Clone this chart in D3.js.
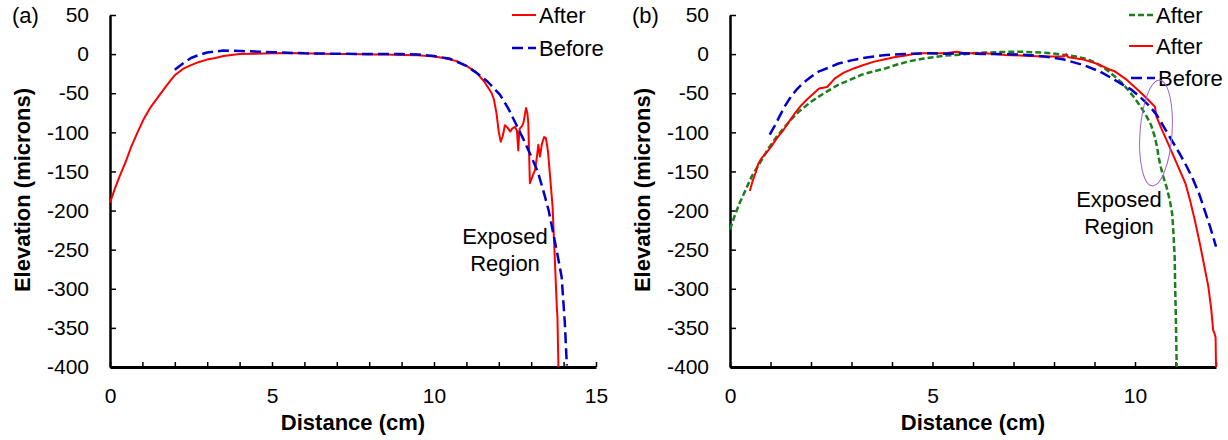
<!DOCTYPE html>
<html lang="en">
<head>
  <meta charset="UTF-8">
  <title>Elevation profiles before and after</title>
  <style>
    body { margin: 0; background: #fff; }
    svg { display: block; font-family: 'Liberation Sans', Arial, sans-serif; }
  </style>
</head>
<body>
  <svg id="chart" width="1228" height="440"></svg>
  <script src="https://cdn.jsdelivr.net/npm/d3@7"></script>
  <script>
    // values: [distance cm, elevation microns]
    const yTicks = [50, 0, -50, -100, -150, -200, -250, -300, -350, -400]
    const xTicksA = d3.range(0, 16)
    const xTicksB = d3.range(0, 13)

    const aAfter = [[0,-190],[0.15,-172],[0.3,-156],[0.5,-136],[0.66,-118],[0.85,-100],[1.03,-84],[1.25,-68],
      [1.5,-54],[1.75,-40],[2.0,-27],[2.25,-19],[2.5,-14],[2.75,-10],[3.0,-7],[3.25,-5],[3.5,-2.5],[3.75,-1],
      [4.0,0],[4.5,0.5],[5,1],[5.5,1.5],[6,1],[6.5,0.5],[7,0],[7.5,0],[8,-0.5],[8.5,-0.5],[9,-1],[9.5,-1.5],
      [10,-3],[10.3,-5],[10.7,-9],[11.0,-15],[11.3,-23],[11.55,-35],[11.78,-50],[11.85,-58],[11.93,-76],
      [12.0,-100],[12.06,-112],[12.12,-105],[12.19,-91],[12.27,-94],[12.35,-99],[12.42,-95],[12.5,-93],
      [12.56,-98],[12.6,-123],[12.63,-100],[12.65,-95],[12.72,-92],[12.76,-88],[12.84,-69],[12.88,-75],
      [12.91,-88],[12.96,-165],[13.05,-155],[13.12,-148],[13.18,-130],[13.22,-116],[13.27,-131],[13.33,-115],
      [13.4,-106],[13.45,-107],[13.48,-114],[13.52,-125],[13.58,-155],[13.66,-195],[13.73,-263],[13.79,-323],
      [13.81,-336],[13.84,-400]]

    const aBefore = [[2.0,-20],[2.25,-12],[2.5,-5],[2.75,-1],[3.0,2],[3.5,4.5],[4.0,4],[5,2.5],[6,1],[7,0.5],
      [8,0],[9,0],[9.5,-0.5],[10,-2.5],[10.5,-6],[11.0,-15],[11.35,-25],[11.65,-35],[12.04,-52],[12.3,-70],
      [12.55,-91],[12.75,-108],[12.96,-127],[13.2,-150],[13.37,-174],[13.54,-200],[13.68,-229],[13.8,-254],
      [13.94,-285],[14.04,-345],[14.1,-398]]

    const bAfterGreen = [[0,-224],[0.12,-206],[0.24,-190],[0.4,-172],[0.54,-156],[0.75,-138],[0.93,-122],
      [1.12,-108],[1.32,-95],[1.5,-84],[1.71,-73],[2.0,-61],[2.2,-54],[2.45,-46],[2.68,-39],[3.0,-32],
      [3.27,-26],[3.55,-22],[3.85,-18],[4.15,-13],[4.44,-9],[4.75,-6],[5.02,-4],[5.3,-2],[5.6,-1],[6.0,1],
      [6.3,2],[6.6,2.5],[6.88,3],[7.2,3],[7.46,2.4],[7.7,2],[7.95,1],[8.25,-1],[8.54,-3],[8.8,-6],[9.02,-11],
      [9.25,-18],[9.51,-29],[9.7,-38],[9.96,-54],[10.15,-68],[10.29,-80],[10.4,-91],[10.49,-106],[10.55,-120],
      [10.58,-131],[10.64,-145],[10.7,-157],[10.78,-170],[10.86,-187],[10.92,-205],[10.95,-229],[10.98,-260],
      [10.99,-293],[11.01,-340],[11.03,-400]]

    const bAfterRed = [[0.49,-175],[0.56,-162],[0.63,-152],[0.7,-140],[0.78,-133],[0.9,-126],[1.02,-118],
      [1.15,-108],[1.32,-97],[1.45,-87],[1.61,-75],[1.75,-66],[1.9,-58],[2.05,-51],[2.2,-44],[2.4,-42],
      [2.59,-31],[2.8,-24],[3.07,-18],[3.3,-14],[3.56,-9.6],[3.8,-7],[4.05,-4],[4.3,-2],[4.54,0],[4.7,1],
      [5.0,1],[5.32,1],[5.6,3],[5.8,1],[6.3,1],[6.8,-1],[7.27,-2],[7.7,-3],[8.1,-3],[8.24,-3],[8.3,0],
      [8.35,-4],[8.73,-7],[9.1,-13],[9.38,-20],[9.5,-22],[9.8,-33],[10.12,-48],[10.3,-57],[10.45,-65],
      [10.49,-67],[10.53,-80],[10.65,-95],[10.78,-110],[10.95,-130],[11.1,-148],[11.25,-166],[11.36,-187],
      [11.48,-213],[11.6,-242],[11.7,-268],[11.81,-297],[11.88,-325],[11.93,-353],[11.97,-358],[11.99,-362],
      [12.0,-400]]

    const bBefore = [[0.98,-103],[1.1,-92],[1.22,-80],[1.35,-67],[1.51,-54],[1.65,-45],[1.8,-37],[2.0,-29],
      [2.2,-22],[2.45,-17],[2.68,-12],[3.0,-8],[3.27,-5],[3.55,-3],[3.85,-1],[4.3,0],[4.83,1],[5.3,0.5],
      [5.8,1],[6.3,0],[6.78,0],[7.3,-1],[7.76,-3],[8.25,-7],[8.73,-14],[9.14,-22.5],[9.4,-30],[9.63,-37],
      [9.9,-45],[10.12,-54.5],[10.35,-66],[10.54,-78],[10.7,-92],[10.86,-106],[11.1,-127],[11.28,-144],
      [11.44,-161],[11.58,-178],[11.69,-195],[11.85,-220],[12.0,-246]]

    const styles = {
      red: { color: '#ff0000', width: 2, dash: null },
      blue: { color: '#0000cc', width: 2.5, dash: '11,5' },
      green: { color: '#1b7f1b', width: 2.5, dash: '6,3' }
    }

    const svg = d3.select('#chart')

    function drawPanel(cfg) {
      const g = svg.append('g')
      const x = d3.scaleLinear().domain([0, cfg.xMax]).range([cfg.left, cfg.right])
      const y = d3.scaleLinear().domain([-400, 50]).range([367, 15])

      const line = d3.line().x(d => x(d[0])).y(d => y(d[1]))

      const yAxis = g.append('g')
        .attr('transform', `translate(${cfg.left},0)`)
        .call(d3.axisLeft(y).tickValues(yTicks).tickSizeInner(-6).tickSizeOuter(0).tickPadding(21)
          .tickFormat(d => String(d)))
      yAxis.select('.domain').attr('stroke-width', 2.5)

      const xAxis = g.append('g')
        .attr('transform', 'translate(0,367)')
        .call(d3.axisBottom(x).tickValues(cfg.xTicks).tickSizeInner(-5).tickSizeOuter(0).tickPadding(21)
          .tickFormat(d => d % 5 === 0 ? String(d) : ''))
      xAxis.select('.domain').attr('stroke-width', 3)

      g.selectAll('.tick line').attr('stroke-width', 1.5)
      g.selectAll('.tick text').attr('font-size', 21).attr('font-family', 'Liberation Sans, Arial, sans-serif')
        .attr('fill', '#000')

      // curves
      cfg.series.forEach(s => {
        const st = styles[s.style]
        g.append('path')
          .attr('d', line(s.data))
          .attr('fill', 'none')
          .attr('stroke', st.color)
          .attr('stroke-width', st.width)
          .attr('stroke-dasharray', st.dash)
          .attr('stroke-linejoin', 'round')
      })

      // legend
      cfg.legend.forEach(l => {
        const st = styles[l.style]
        g.append('line')
          .attr('x1', l.x).attr('x2', l.x + 24).attr('y1', l.y).attr('y2', l.y)
          .attr('stroke', st.color).attr('stroke-width', st.width).attr('stroke-dasharray', st.dash)
        g.append('text')
          .attr('x', l.x + 27).attr('y', l.y + 8)
          .attr('font-size', 22)
          .text(l.label)
      })

      // labels
      g.append('text').attr('x', cfg.left - 98).attr('y', 23).attr('font-size', 22).text(cfg.tag)

      g.append('text')
        .attr('x', (cfg.left + cfg.right) / 2).attr('y', 430)
        .attr('text-anchor', 'middle').attr('font-size', 22).attr('font-weight', 'bold')
        .text('Distance (cm)')

      g.append('text')
        .attr('transform', `translate(${cfg.left - 80},190) rotate(-90)`)
        .attr('text-anchor', 'middle').attr('font-size', 22).attr('font-weight', 'bold')
        .text('Elevation (microns)')

      const note = g.append('text').attr('font-size', 22).attr('text-anchor', 'middle')
      note.append('tspan').attr('x', cfg.note[0]).attr('y', cfg.note[1]).text('Exposed')
      note.append('tspan').attr('x', cfg.note[0]).attr('y', cfg.note[1] + 27).text('Region')

      return g
    }

    drawPanel({
      left: 110, right: 596, xMax: 15, xTicks: xTicksA, tag: '(a)', note: [505, 244],
      series: [
        { data: aAfter, style: 'red' },
        { data: aBefore, style: 'blue' }
      ],
      legend: [
        { label: 'After', style: 'red', x: 512, y: 15 },
        { label: 'Before', style: 'blue', x: 512, y: 48 }
      ]
    })

    const gb = drawPanel({
      left: 730, right: 1216, xMax: 12, xTicks: xTicksB, tag: '(b)', note: [1119, 207],
      series: [
        { data: bAfterGreen, style: 'green' },
        { data: bAfterRed, style: 'red' },
        { data: bBefore, style: 'blue' }
      ],
      legend: [
        { label: 'After', style: 'green', x: 1129, y: 15 },
        { label: 'After', style: 'red', x: 1129, y: 46 },
        { label: 'Before', style: 'blue', x: 1131, y: 78 }
      ]
    })

    gb.append('ellipse')
      .attr('transform', 'translate(1156,133) rotate(4)')
      .attr('rx', 16).attr('ry', 53)
      .attr('fill', 'none').attr('stroke', '#9966cc').attr('stroke-width', 1)
  </script>
</body>
</html>
